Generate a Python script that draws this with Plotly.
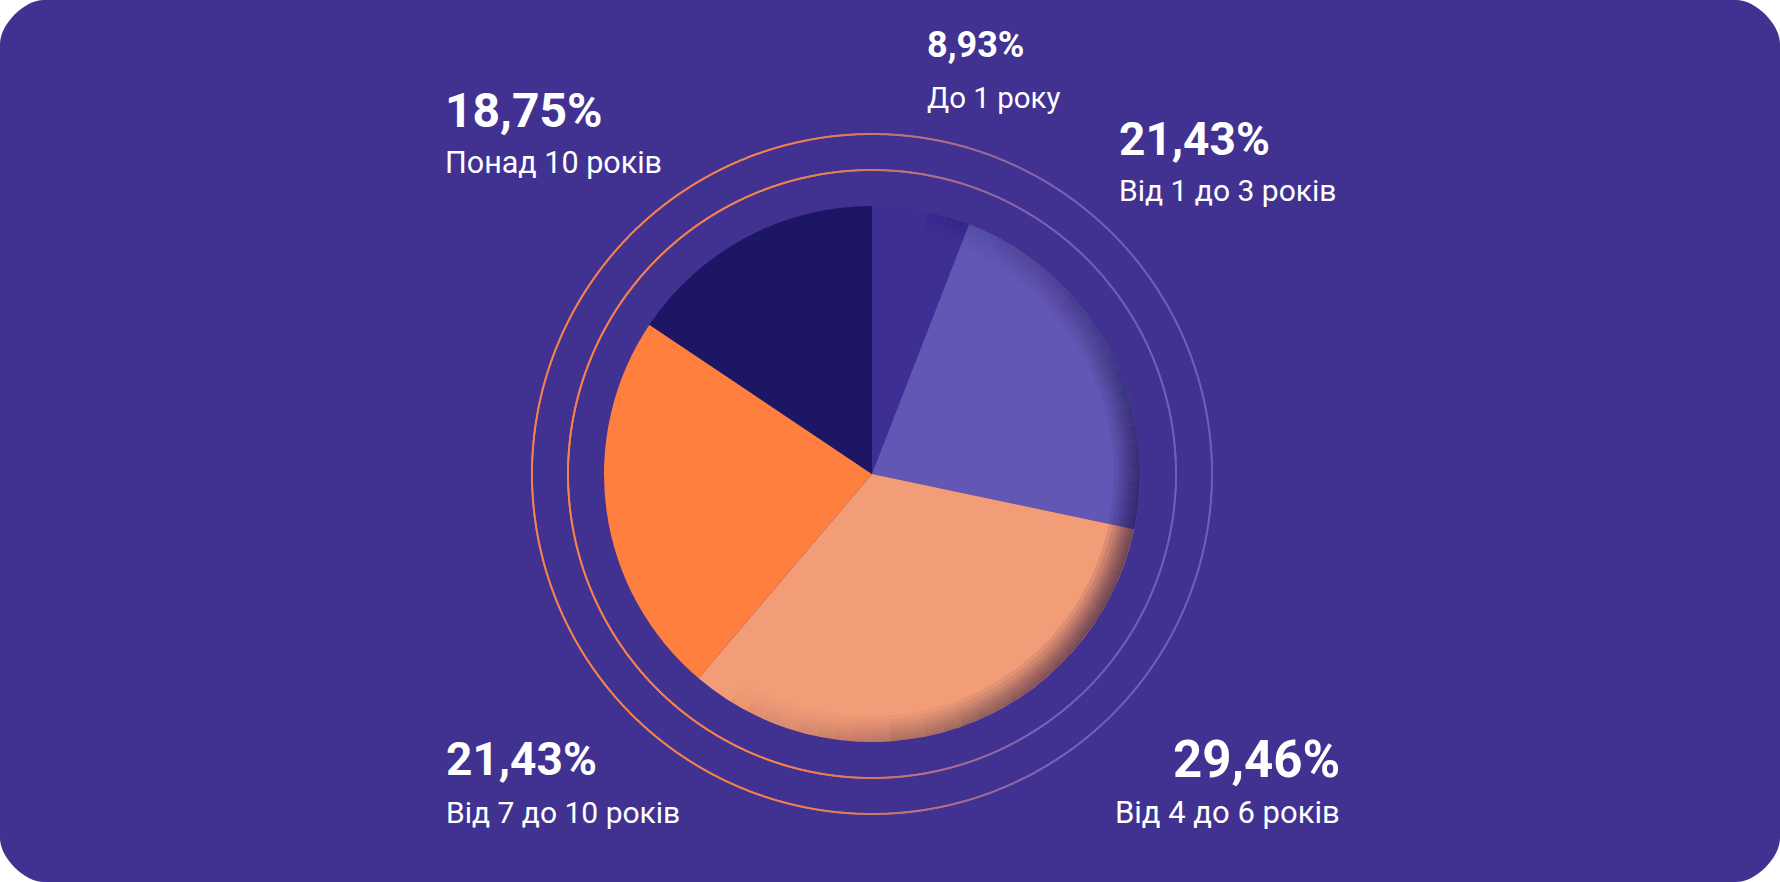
import numpy as np
import plotly.graph_objects as go

W, H = 1780, 882

# ---- data ----
categories = ["До 1 року", "Від 1 до 3 років", "Від 4 до 6 років", "Від 7 до 10 років", "Понад 10 років"]
percent_values = [8.93, 21.43, 29.46, 21.43, 18.75]
# slice sizes as drawn in the picture (angles)
slice_share = [5.9, 22.4, 32.9, 23.2, 15.6]
slice_colors = ["#3E2F95", "#6257B4", "#F29D78", "#FF7F3F", "#1C1664"]

# ---- layout constants ----
BG = "#413292"
CX, CY, R = 872, 474, 268
RING_RADII = [304, 340]
# per label: x, anchor, pct center y, pct font size, label center y, label font size
label_layout = [
    (925, "left", 45, 36, 97.5, 29.5),
    (1117, "left", 138.5, 46, 190, 30),
    (1342, "right", 759.5, 51, 812, 31),
    (444, "left", 758.5, 46, 812, 30),
    (443, "left", 110.5, 48, 162, 30.5),
]


def pct_text(v):
    return f"{v:.2f}%".replace(".", ",")


def hex2rgb(h):
    h = h.lstrip("#")
    return np.array([int(h[i:i + 2], 16) for i in (0, 2, 4)], dtype=float)


fig = go.Figure()

# decorative gradient rings (orange on the left -> purple on the right)
orange = hex2rgb("#F4834E")
purple = hex2rgb("#6E5DC2")
for rr in RING_RADII:
    n = 3000
    th = np.linspace(0, 2 * np.pi, n, endpoint=False)
    xs = CX + rr * np.sin(th)
    ys = CY - rr * np.cos(th)
    t = (xs - (CX - rr)) / (2 * rr)
    t = np.clip((t - 0.3) / 0.6, 0, 1)
    t = t * t * (3 - 2 * t)
    cols = [
        "rgb(%d,%d,%d)" % tuple(orange * (1 - k) + purple * k) for k in t
    ]
    fig.add_trace(go.Scatter(
        x=xs, y=ys, mode="markers",
        marker=dict(size=2, color=cols, line=dict(width=0)),
        hoverinfo="skip", showlegend=False,
    ))

# pie
fig.add_trace(go.Pie(
    labels=categories,
    values=slice_share,
    marker=dict(colors=slice_colors, line=dict(width=0)),
    sort=False,
    direction="clockwise",
    rotation=0,
    textinfo="none",
    hoverinfo="skip",
    showlegend=False,
    domain=dict(
        x=[(CX - R) / W, (CX + R) / W],
        y=[1 - (CY + R) / H, 1 - (CY - R) / H],
    ),
))

shapes = []
# rounded card
rc = 44
k = 0.45 * rc
card = (
    f"M {rc},0 L {W - rc},0 C {W - rc + k},0 {W},{rc - k} {W},{rc} "
    f"L {W},{H - rc} C {W},{H - rc + k} {W - rc + k},{H} {W - rc},{H} "
    f"L {rc},{H} C {rc - k},{H} 0,{H - rc + k} 0,{H - rc} "
    f"L 0,{rc} C 0,{rc - k} {rc - k},0 {rc},0 Z"
)
shapes.append(dict(type="path", path=card, xref="x", yref="y",
                   fillcolor=BG, line=dict(width=0), layer="below"))


# inner rim shadow on the pie (nested translucent annular sectors)
def sector(r_in, r_out, a0, a1, n=6):
    a = np.radians(np.linspace(a0, a1, n))
    ox = CX + r_out * np.sin(a)
    oy = CY - r_out * np.cos(a)
    ix = CX + r_in * np.sin(a[::-1])
    iy = CY - r_in * np.cos(a[::-1])
    pts = list(zip(ox, oy)) + list(zip(ix, iy))
    return "M " + " L ".join(f"{x:.2f},{y:.2f}" for x, y in pts) + " Z"


center_ang, half_span, dmax = 112, 120, 0.56
bands = [3, 6, 9, 12, 15, 18, 22, 26]
step = 4
for a0 in np.arange(center_ang - half_span, center_ang + half_span, step):
    mid = a0 + step / 2
    f = np.cos((mid - center_ang) / half_span * np.pi / 2) ** 2
    alpha = 1 - (1 - dmax * f) ** (1 / len(bands))
    if alpha < 0.004:
        continue
    for dr in bands:
        shapes.append(dict(
            type="path", path=sector(R - dr, R - 0.3, a0, a0 + step),
            xref="x", yref="y", fillcolor=f"rgba(22,12,62,{alpha:.4f})",
            line=dict(width=0), layer="above",
        ))

annotations = []
for v, cat, (x, anc, py, ps, ly, ls) in zip(percent_values, categories, label_layout):
    annotations.append(dict(
        x=x, y=py, xref="x", yref="y", text=pct_text(v), showarrow=False,
        xanchor=anc, yanchor="middle",
        font=dict(family="Roboto", size=ps, color="white", weight=700),
    ))
    annotations.append(dict(
        x=x, y=ly, xref="x", yref="y", text=cat, showarrow=False,
        xanchor=anc, yanchor="middle",
        font=dict(family="Roboto", size=ls, color="white", weight=400),
    ))

fig.update_layout(
    width=W, height=H,
    margin=dict(l=0, r=0, t=0, b=0),
    paper_bgcolor="white",
    plot_bgcolor="rgba(0,0,0,0)",
    xaxis=dict(range=[0, W], visible=False, fixedrange=True, domain=[0, 1]),
    yaxis=dict(range=[H, 0], visible=False, fixedrange=True, domain=[0, 1]),
    shapes=shapes,
    annotations=annotations,
    showlegend=False,
)

fig.write_html("out.html", config=dict(displayModeBar=False))
